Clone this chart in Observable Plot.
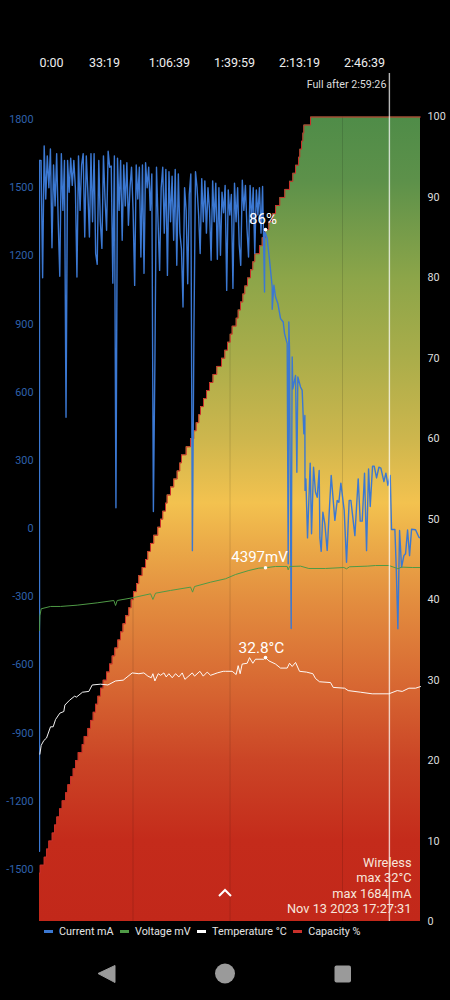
<!DOCTYPE html>
<html>
<head>
<meta charset="utf-8">
<script src="https://cdn.jsdelivr.net/npm/d3@7"></script>
<script src="https://cdn.jsdelivr.net/npm/@observablehq/plot@0.6"></script>
<style>
html,body{margin:0;padding:0;background:#000;width:450px;height:1000px;overflow:hidden}
body{position:relative;font-family:Roboto,sans-serif}
#chart{position:absolute;left:0;top:0}
#legend{position:absolute;left:44px;top:924px;height:14px;display:flex;align-items:center;font-size:10.8px;color:#e4e4e4;white-space:nowrap}
#legend span.s{display:inline-block;width:9px;height:3px;margin-right:6px}
#legend span.t{margin-right:6.4px}
#chev{position:absolute;left:215px;top:885px}
#nav{position:absolute;left:0;top:950px}
</style>
</head>
<body>
<div id="chart"></div>
<svg id="chev" width="20" height="16" viewBox="0 0 20 16"><path d="M4 11 L10 5 L16 11" fill="none" stroke="#fff" stroke-width="2"/></svg>
<div id="legend"></div>
<svg id="nav" width="450" height="50" viewBox="0 0 450 50">
<path d="M115 15.5 L98 23.5 L115 32.5 Z" fill="#9a9a9a" stroke="#9a9a9a" stroke-width="1" stroke-linejoin="round"/>
<circle cx="225" cy="23.5" r="10" fill="#9a9a9a"/>
<rect x="334.5" y="15.5" width="16.5" height="17" rx="2" fill="#9a9a9a"/>
</svg>
<script>
// Time axis
const tickSeconds = [0, 1999, 3999, 5999, 7999, 9999];
const tickLabels = ["0:00", "33:19", "1:06:39", "1:39:59", "2:13:19", "2:46:39"];
const maxSeconds = 11723;
const fullSeconds = 10766;
const gridSeconds = [2877, 5862, 9323];

// Capacity %
const capacityLevels = [6,7,8,9,10,11,12,13,14,15,16,17,18,19,20,21,22,23,24,25,26,27,28,29,30,31,32,33,34,35,36,37,38,39,40,41,42,43,44,45,46,47,48,49,50,51,52,53,54,55,56,57,58,59,60,61,62,63,64,65,66,67,68,69,70,71,72,73,74,75,76,77,78,79,80,81,82,83,84,85,86,87,88,89,90,91,92,93,94,95,96,97,98,99,100,100];
const capacitySeconds = [0,22,145,215,286,391,462,532,615,698,800,871,954,1037,1108,1191,1314,1375,1486,1569,1652,1723,1794,1877,1960,2062,2154,2237,2317,2409,2492,2569,2646,2748,2822,2892,2985,3055,3160,3262,3332,3415,3517,3640,3723,3794,3877,3929,4031,4132,4237,4317,4369,4514,4646,4748,4822,4902,4954,5046,5139,5231,5339,5456,5600,5702,5785,5868,5929,6052,6114,6185,6256,6317,6400,6492,6563,6625,6769,6852,6954,7056,7179,7262,7394,7548,7692,7794,7877,7969,8009,8062,8103,8133,8339,11723];

// Current mA: evenly logged first stretch, then the taper
const currentChargingMa = [-1420,1620,1104,1684,1450,1640,1500,1670,1236,1600,1420,1650,1350,1110,1650,1400,1620,490,1620,1480,1630,1510,1620,1500,1107,1640,1400,1600,1650,1283,1640,1480,1283,1650,1350,1650,1210,1163,1620,1350,1233,1640,1450,1313,1660,1590,1595,1080,1640,92,1630,1400,1620,1269,1600,1420,1610,1335,1500,1590,1400,1070,1600,1450,1590,1195,1600,1123,1610,1500,1590,1400,1560,75,750,1590,1350,1136,1500,1590,1300,1580,1114,1570,1350,1550,1269,1580,1159,1560,1300,1230,975,1500,1400,1077,1470,1560,-97,870,1570,1500,1380,1210,1540,1350,1530,1300,1500,1400,1181,1530,1350,1520,1185,1500,1203,1480,1390,1510,1048,1490,1380,1470,1057,1520,1350,1500,1250,1158,1533,1400,1510,1320,1195,1510,1350,1500,1211,1490,1380,1500,1300,1505];
const chargingLogSeconds = 48;
const currentTaperSeconds = [6924,6934,6955,7006,7078,7160,7160,7212,7263,7335,7417,7499,7540,7621,7652,7672,7693,7744,7765,7775,7795,7878,7919,7949,8032,8083,8134,8165,8170,8196,8247,8329,8370,8432,8493,8545,8606,8627,8668,8719,8780,8852,8975,9088,9160,9211,9273,9375,9447,9529,9581,9704,9806,9868,9930,10001,10063,10125,10176,10248,10299,10371,10443,10504,10597,10658,10720,10791,10832,10935,10976,11027,11079,11140,11212,11263,11325,11386,11448,11571,11674,11723];
const currentTaperMa = [1041,1305,1298,1276,1181,1063,965,1071,1019,990,924,909,858,814,-155,909,784,-440,461,755,615,674,248,667,623,608,417,498,168,219,-41,288,-23,270,160,138,256,-41,-100,72,21,-96,234,36,124,116,200,80,-148,124,124,-31,219,33,33,244,-97,263,97,275,275,223,270,266,207,244,190,234,-4,-4,-170,-441,-8,-170,-119,-111,-6,-119,-3,-5,-38,-41];

// Temperature °C
const temperatureSeconds = [11,52,134,216,339,421,493,626,749,780,924,1078,1139,1324,1519,1622,1878,2104,2340,2576,2853,3058,3212,3335,3438,3489,3550,3653,3725,3827,3899,3981,4084,4187,4289,4392,4474,4700,4771,4935,5038,5161,5264,5469,5654,5723,5928,6051,6113,6174,6236,6390,6462,6564,6646,6903,6954,7057,7262,7416,7621,7693,7775,7878,8001,8216,8411,8493,8616,8955,9037,9386,9499,9878,10237,10750,11007,11161,11366,11571,11723];
const temperatureC = [20.8,21.9,22.5,22.8,24.2,24.2,25.1,25.9,26.1,26.9,27.5,28.0,27.9,28.5,28.6,29.4,29.5,29.4,29.9,30.0,30.9,30.8,30.9,30.5,30.3,30.8,29.9,30.8,30.6,30.9,30.4,30.8,30.3,30.8,30.4,30.9,30.1,30.9,30.5,31.1,30.5,31.0,30.6,30.9,31.1,31.1,31.1,30.7,31.8,30.8,32.0,32.1,32.8,32.1,32.6,32.6,32.8,32.4,32.0,31.5,31.5,32.1,31.7,32.2,31.1,31.0,30.8,30.2,29.8,29.7,29.1,29.0,28.7,28.5,28.3,28.3,28.7,28.6,29.0,29.0,29.2];

// Voltage mV
const voltageSeconds = [0,11,52,339,647,1160,1775,2288,2340,2391,2853,3417,3489,3571,4033,4648,4710,4771,5264,5723,6031,6441,6749,6954,7262,7621,7652,7693,8032,8288,8801,9365,9447,9540,10084,10340,10750,10986,11027,11140,11469,11723];
const voltageMv = [3617,3800,3887,3916,3916,3932,3961,3990,3928,3990,4023,4073,4003,4081,4115,4156,4094,4164,4218,4260,4313,4363,4392,4397,4413,4413,4371,4413,4417,4388,4388,4400,4384,4409,4417,4425,4425,4392,4384,4405,4400,4400];

// Cursor read-out
const cursorSeconds = 6954;
const cursorPercent = 86;
const cursorMv = 4397;
const cursorC = 32.8;

// Axes and text
const currentTicks = [1800,1500,1200,900,600,300,0,-300,-600,-900,-1200,-1500];
const capacityTicks = [0,10,20,30,40,50,60,70,80,90,100];
const infoLines = ["Wireless", "max 32°C", "max 1684 mA", "Nov 13 2023 17:27:31"];
const fullText = "Full after 2:59:26";

// Colours
const currentColor = "#3b78d2";
const currentAxisColor = "#2f62ad";
const voltageColor = "#4f9a46";
const capacityColor = "#c9302a";
const gradientOffsets = [0, 0.1, 0.2, 0.3, 0.4, 0.46, 0.52, 0.6, 0.7, 0.8, 0.92, 1];
const gradientColors = ["#c2281a","#c42b1b","#cb4526","#d86a33","#e38e3f","#eaa747","#f3c24f","#cdb64d","#aaad4a","#8ca549","#5d914a","#4f8c48"];
const legendNames = ["Current mA", "Voltage mV", "Temperature °C", "Capacity %"];
const legendColors = [currentColor, voltageColor, "#ffffff", capacityColor];

// Current shares the percent position scale through its own linear map (left axis)
const maToPct = d3.scaleLinear([-1500, 1800], [6.46, 99.69]);
const labelOf = new Map(tickSeconds.map((s, i) => [s, tickLabels[i]]));

const rows = (xs, ys) => xs.map((x, i) => ({x, y: ys[i]}));
const capacity = rows(capacitySeconds, capacityLevels);
const currentAll = [
  {x: 0, y: maToPct(currentChargingMa[0])},
  {x: 0, y: maToPct(currentChargingMa[1])},
  ...currentChargingMa.slice(1).map((ma, i) => ({x: (i + 1) * chargingLogSeconds, y: maToPct(ma)})),
  ...currentTaperSeconds.map((x, i) => ({x, y: maToPct(currentTaperMa[i])}))
];
const voltage = rows(voltageSeconds, voltageMv.map(v => v / 100));
const temperature = rows(temperatureSeconds, temperatureC);
const capacityAt = s => capacityLevels[d3.bisectRight(capacitySeconds, s) - 1];

const gradient = () => {
  const defs = d3.create("svg:defs");
  const g = defs.append("linearGradient").attr("id", "capGrad")
    .attr("x1", 0).attr("y1", 1).attr("x2", 0).attr("y2", 0);
  gradientOffsets.forEach((o, i) => g.append("stop").attr("offset", o).attr("stop-color", gradientColors[i]));
  return defs.node();
};

const chart = Plot.plot({
  width: 450,
  height: 925,
  marginTop: 116.5,
  marginBottom: 4,
  marginLeft: 39,
  marginRight: 30,
  style: {background: "#000", fontFamily: "Roboto, sans-serif", overflow: "visible"},
  x: {domain: [0, maxSeconds]},
  y: {domain: [0, 100]},
  marks: [
    gradient,
    Plot.areaY(capacity, {x: "x", y: "y", curve: "step-after", fill: "url(#capGrad)"}),
    Plot.ruleX(gridSeconds, {x: d => d, y1: 0, y2: capacityAt, stroke: "#000", strokeOpacity: 0.13, strokeWidth: 1}),
    Plot.lineY(capacity, {x: "x", y: "y", curve: "step-after", stroke: capacityColor, strokeWidth: 1}),
    Plot.lineY(currentAll, {x: "x", y: "y", stroke: currentColor, strokeWidth: 1.4, clip: "frame"}),
    Plot.lineY(voltage, {x: "x", y: "y", stroke: voltageColor, strokeWidth: 1, clip: "frame"}),
    Plot.lineY(temperature, {x: "x", y: "y", stroke: "#fff", strokeWidth: 1, strokeOpacity: 0.95}),
    Plot.ruleX([fullSeconds], {y1: 0, y2: 105.4, stroke: "#fff", strokeOpacity: 0.72, strokeWidth: 1.4}),
    Plot.axisX(tickSeconds.slice(0, 1), {anchor: "top", tickSize: 0, tickPadding: 50, textAnchor: "start", fontSize: 12.5, fill: "#eee", tickFormat: s => labelOf.get(s), label: null}),
    Plot.axisX(tickSeconds.slice(1), {anchor: "top", tickSize: 0, tickPadding: 50, fontSize: 12.5, fill: "#eee", tickFormat: s => labelOf.get(s), label: null}),
    Plot.axisY(currentTicks.map(maToPct), {anchor: "left", tickSize: 0, tickPadding: 6, fontSize: 10.8, fill: currentAxisColor, tickFormat: p => String(Math.round(maToPct.invert(p))), label: null}),
    Plot.axisY(capacityTicks, {anchor: "right", tickSize: 0, tickPadding: 7, fontSize: 10.8, fill: "#ddd", label: null}),
    Plot.text([fullText], {x: [fullSeconds], y: [104], textAnchor: "end", dx: -3, fontSize: 10.7, fill: "#ddd"}),
    Plot.dot([[cursorSeconds, cursorPercent], [cursorSeconds, cursorMv / 100], [cursorSeconds, cursorC]], {x: d => d[0], y: d => d[1], r: 1.8, fill: "#fff"}),
    Plot.text([`${cursorPercent}%`], {x: [cursorSeconds], y: [cursorPercent], dx: -2.5, dy: -10.5, fontSize: 15, fill: "#fff"}),
    Plot.text([`${cursorMv}mV`], {x: [cursorSeconds], y: [cursorMv / 100], dx: -6, dy: -11, fontSize: 15, fill: "#fff"}),
    Plot.text([`${cursorC}°C`], {x: [cursorSeconds], y: [cursorC], dx: -4, dy: -10, fontSize: 15.4, fill: "#fff"}),
    Plot.text([infoLines.join("\n")], {frameAnchor: "bottom-right", dx: -9, dy: -8.5, fontSize: 12.8, lineHeight: 1.2, fill: "#f6e6dc"})
  ]
});
document.getElementById("chart").appendChild(chart);

const legend = d3.select("#legend");
legendNames.forEach((n, i) => {
  legend.append("span").attr("class", "s").style("background", legendColors[i]);
  legend.append("span").attr("class", "t").text(n);
});
</script>
</body>
</html>
